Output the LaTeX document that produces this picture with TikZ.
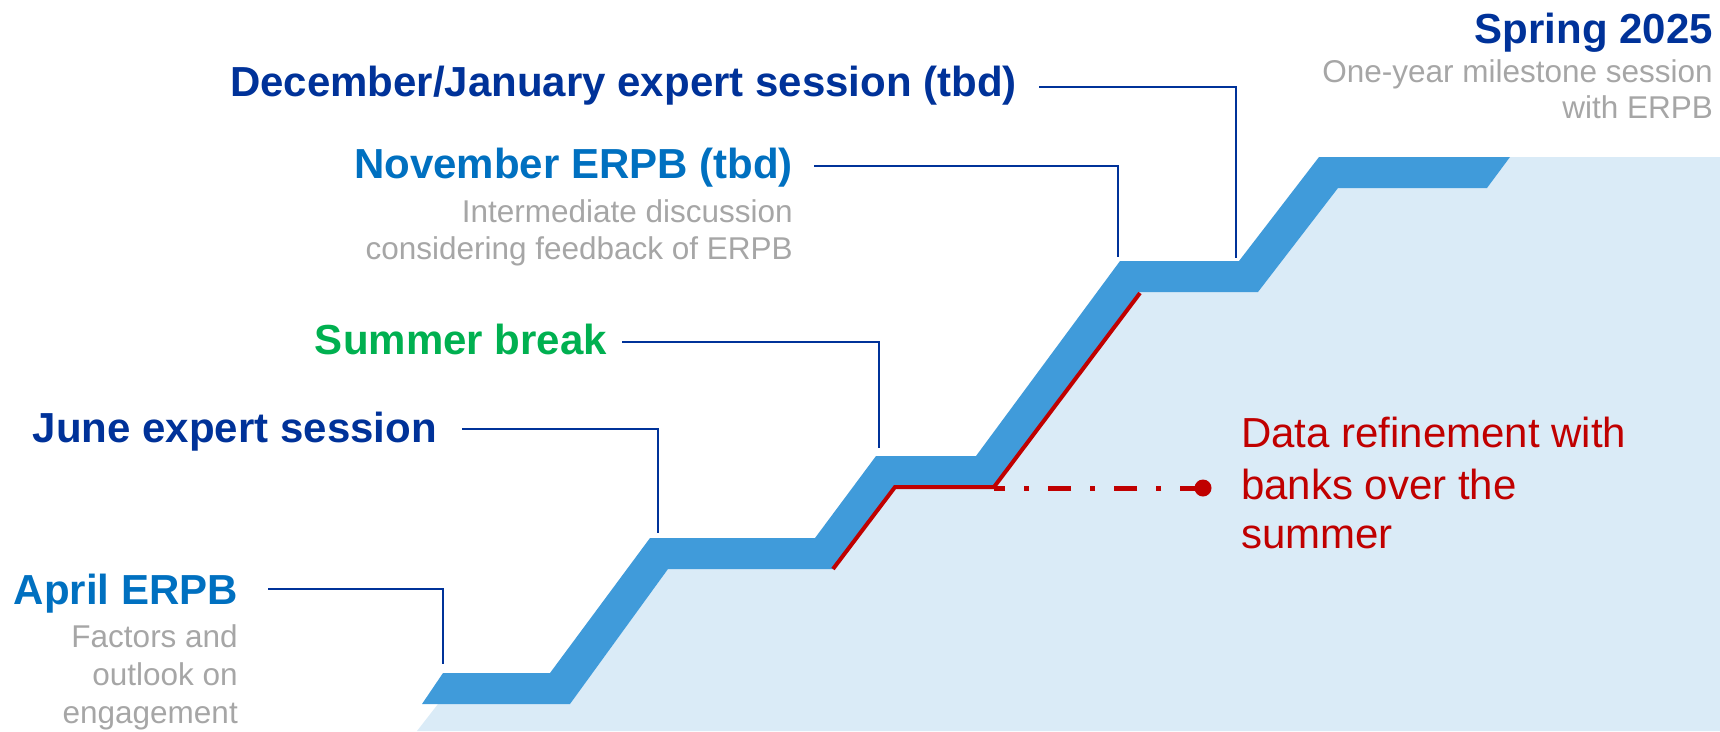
\documentclass[tikz,border=0pt]{standalone}
\usepackage{fontspec}
\setmainfont{Liberation Sans}
\definecolor{ecbdark}{RGB}{0,50,153}
\definecolor{ecbmid}{RGB}{0,112,192}
\definecolor{ecbgreen}{RGB}{0,176,80}
\definecolor{ecbgrey}{RGB}{166,166,166}
\definecolor{bandblue}{RGB}{64,155,218}
\definecolor{lightfill}{RGB}{218,235,247}
\definecolor{ecbred}{RGB}{192,0,0}
\begin{document}
\begin{tikzpicture}[x=1pt,y=-1pt,
  head/.style={anchor=base east, inner sep=0pt, font=\fontsize{42}{50}\selectfont\bfseries},
  sub/.style={anchor=base east, inner sep=0pt, font=\fontsize{31.5}{38}\selectfont, text=ecbgrey},
  note/.style={anchor=base west, inner sep=0pt, font=\fontsize{42}{50}\selectfont, text=ecbred},
  conn/.style={draw=ecbdark, line width=2.2pt},
  redline/.style={draw=ecbred, line width=4pt},
  reddash/.style={draw=ecbred, line width=5pt, dash pattern=on 23pt off 19pt on 5pt off 19pt}]
\useasboundingbox (0,0) rectangle (1720,731);

% light area below the staircase
\fill[lightfill] (417,731) -- (438,704) -- (570,704) -- (668,569) -- (833,569) -- (895,487)
  -- (994,487) -- (1139,292) -- (1258,292) -- (1338,188) -- (1487,188) -- (1510,157)
  -- (1720,157) -- (1720,731) -- cycle;

% blue staircase band
\fill[bandblue] (443,673) -- (550,673) -- (650,538) -- (815,538) -- (876,456) -- (976,456)
  -- (1120,261) -- (1239,261) -- (1319,157) -- (1510,157)
  -- (1487,188) -- (1338,188) -- (1258,292) -- (1139,292) -- (994,487) -- (895,487)
  -- (833,569) -- (668,569) -- (570,704) -- (422,704) -- cycle;

% red data refinement line
\coordinate (r1) at (833,569);
\coordinate (r2) at (895,487);
\coordinate (r3) at (994,487);
\coordinate (r4) at (1140,293);
\draw[redline] (r1) -- (r2) -- (r3) -- (r4);
\node[circle, fill=ecbred, minimum size=17pt, inner sep=0pt] (dot) at (1203,488) {};
\coordinate (r3d) at (994,488);
\draw[reddash] (dot.center) -- (r3d);
\node[note] (data1) at (1241,447) {Data refinement with};
\node[note] (data2) at (1241,499) {banks over the};
\node[note] (data3) at (1241,548) {summer};

% April ERPB
\node[head, text=ecbmid] (april) at (238,604) {April ERPB};
\node[sub] (april1) at (238,647) {Factors and};
\node[sub] (april2) at (238,685) {outlook on};
\node[sub] (april3) at (238,723) {engagement};
\coordinate (aprilS) at (268,589);
\coordinate (aprilE) at (443,664);
\draw[conn] (aprilS) -| (aprilE);

% June expert session
\node[head, text=ecbdark] (june) at (437,442) {June expert session};
\coordinate (juneS) at (462,429);
\coordinate (juneE) at (658,533);
\draw[conn] (juneS) -| (juneE);

% Summer break
\node[head, text=ecbgreen] (summer) at (607,354) {Summer break};
\coordinate (summerS) at (622,342);
\coordinate (summerE) at (879,448);
\draw[conn] (summerS) -| (summerE);

% November ERPB
\node[head, text=ecbmid] (nov) at (793,178) {November ERPB (tbd)};
\node[sub] (nov1) at (793,222) {Intermediate discussion};
\node[sub] (nov2) at (793,259) {considering feedback of ERPB};
\coordinate (novS) at (814,166);
\coordinate (novE) at (1118,257);
\draw[conn] (novS) -| (novE);

% December/January
\node[head, text=ecbdark] (dec) at (1017,96) {December/January expert session (tbd)};
\coordinate (decS) at (1039,87);
\coordinate (decE) at (1236,258);
\draw[conn] (decS) -| (decE);

% Spring 2025
\node[head, text=ecbdark] (spring) at (1713,43) {Spring 2025};
\node[sub] (spring1) at (1713,82) {One-year milestone session};
\node[sub] (spring2) at (1713,118) {with ERPB};
\end{tikzpicture}
\end{document}
